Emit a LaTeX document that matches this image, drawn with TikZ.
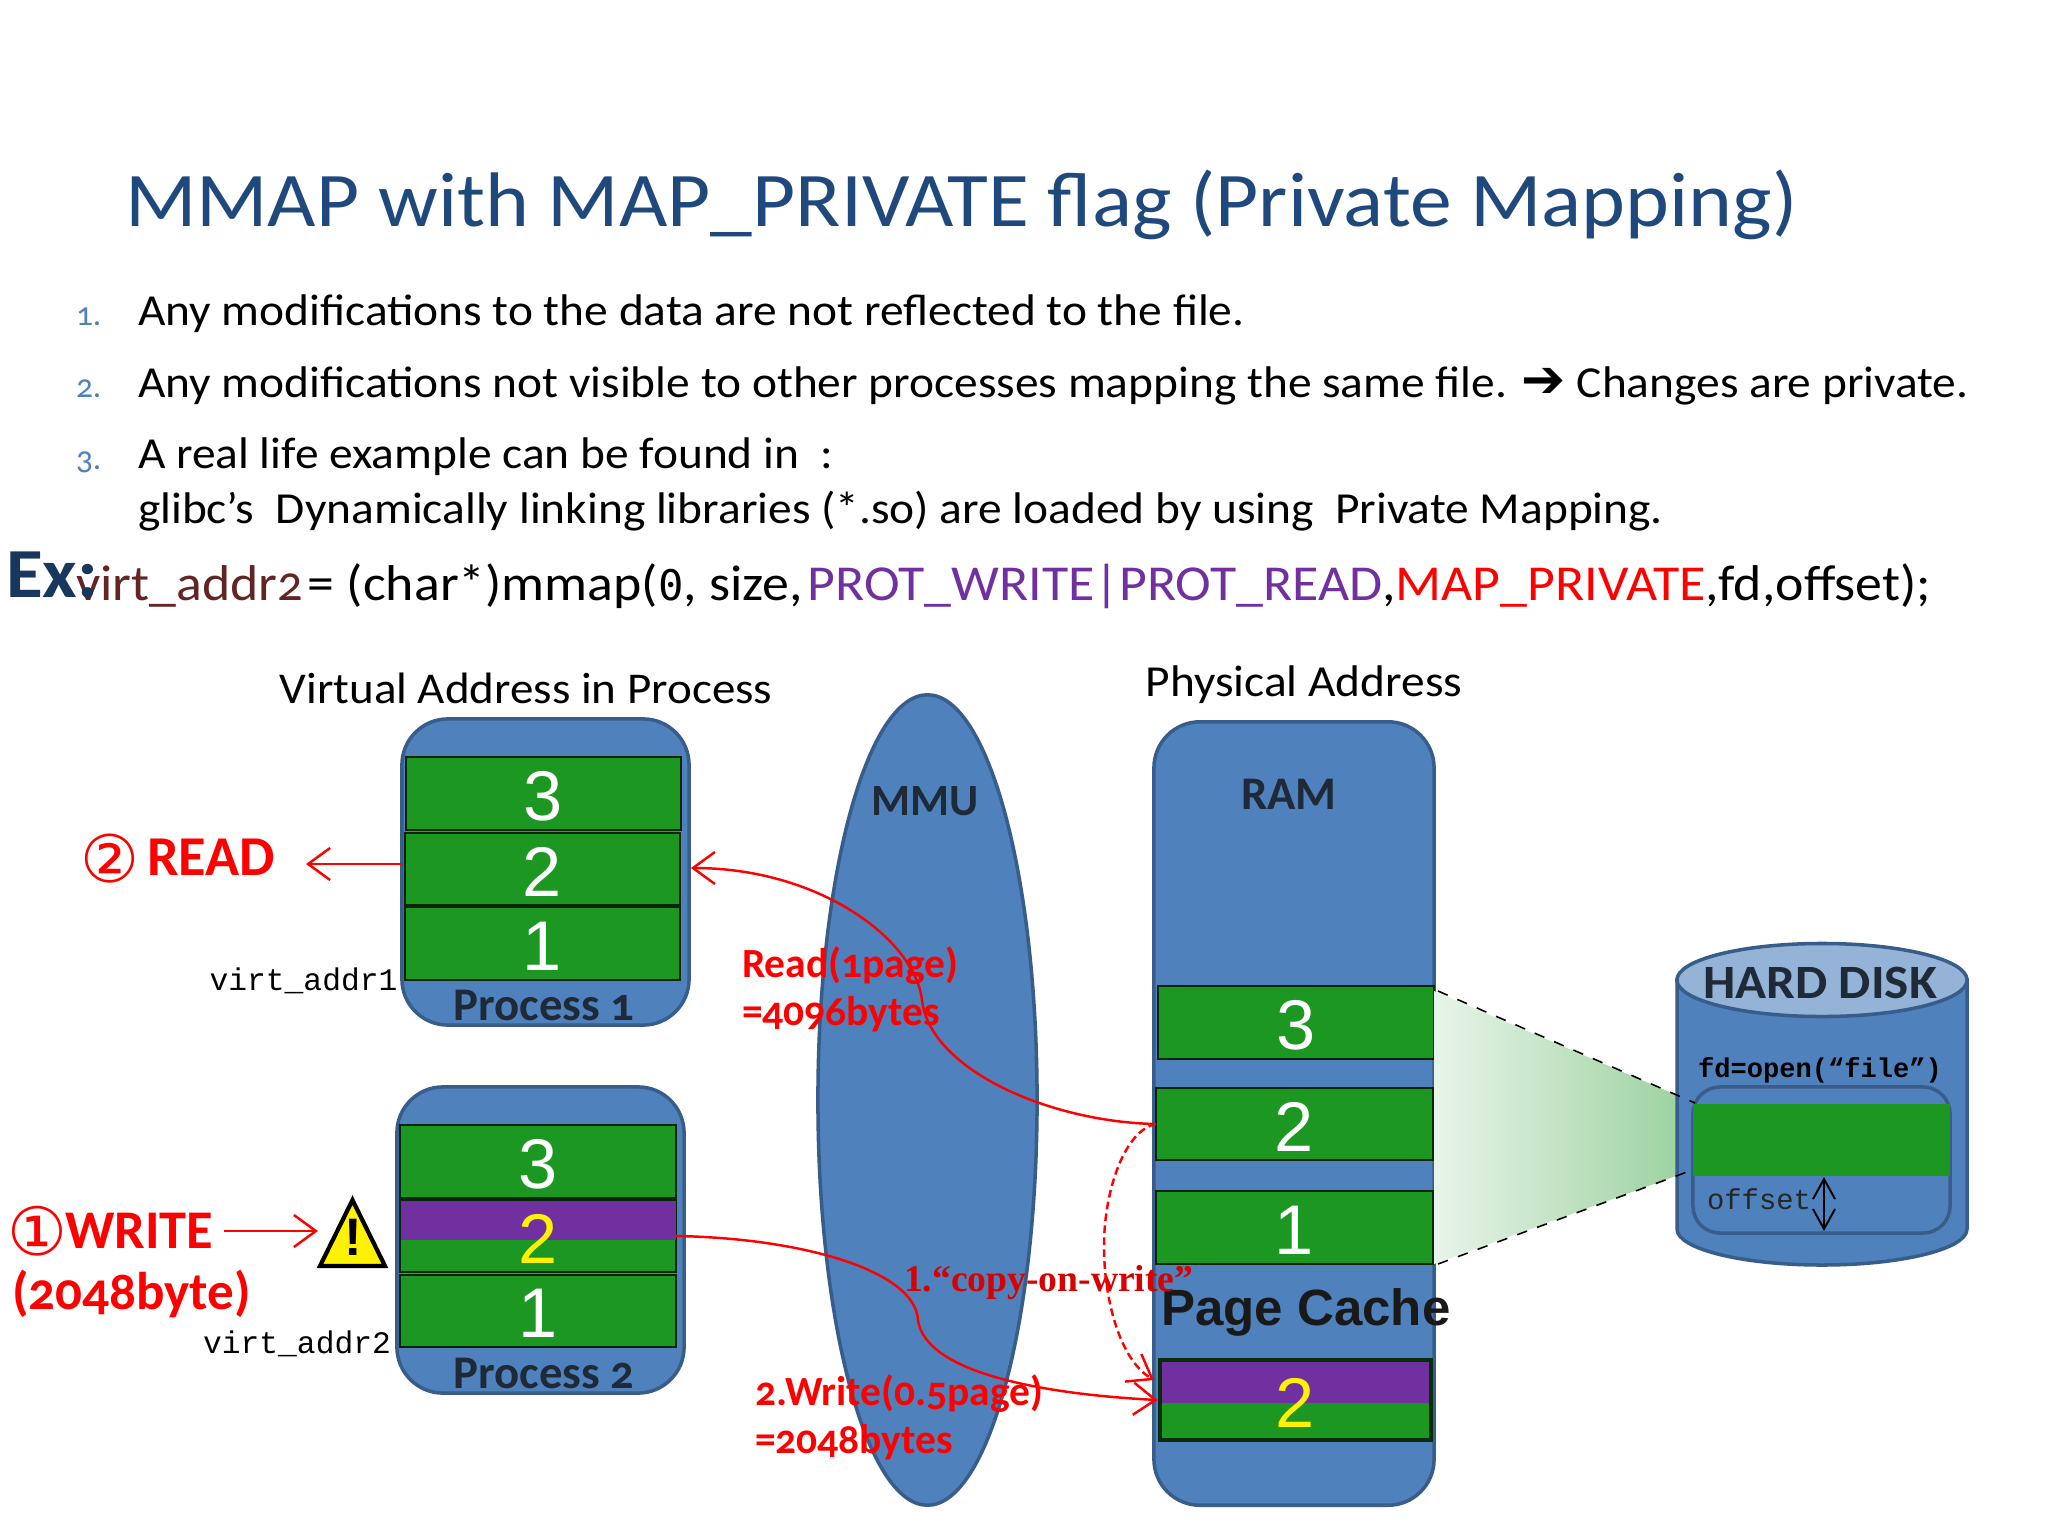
\documentclass[tikz,border=0pt]{standalone}
\usepackage{fontspec}
\setmainfont[FakeStretch=1.07]{Carlito}
\newfontfamily\candt[FakeStretch=1.08]{Carlito}
\newfontfamily\cand[Numbers=OldStyle]{Carlito}
\newfontfamily\arial{Liberation Sans}
\newfontfamily\lmono{Liberation Mono}
\newfontfamily\djmono{DejaVu Sans Mono}
\newfontfamily\djsans{DejaVu Sans}
\newfontfamily\tserif[Numbers=OldStyle]{Liberation Serif}
\usetikzlibrary{arrows.meta,shapes.geometric}
\definecolor{fillblue}{HTML}{4F81BD}
\definecolor{edgeblue}{HTML}{385D8A}
\definecolor{diskTop}{HTML}{95B3D7}
\definecolor{bargreen}{HTML}{1B9722}
\definecolor{barpurple}{HTML}{7030A0}
\definecolor{titleblue}{HTML}{1F497D}
\definecolor{exblue}{HTML}{17375E}
\definecolor{brownred}{HTML}{632523}
\definecolor{numblue}{HTML}{4F81BD}
\definecolor{labeldark}{HTML}{1F2A38}
\newcommand{\fsz}[1]{\fontsize{#1pt}{#1pt}\selectfont}
\tikzset{
  txt/.style={inner sep=0pt,outer sep=0pt},
  line/.style={txt,anchor=base west,text=black},
  blob/.style={rounded corners=4.6mm,draw=edgeblue,fill=fillblue,line width=1.0pt},
  barbox/.style={draw=black!75!bargreen,fill=bargreen,line width=0.5pt,inner sep=0pt,outer sep=0pt},
  digit/.style={txt,text=white,font=\arial\fsz{20},yshift=-0.25mm},
  dlabel/.style={txt,text=labeldark,font=\cand\bfseries\fsz{13.3}},
  redlabel/.style={txt,anchor=base west,text=red,font=\cand\bfseries\fsz{11.8}},
  monolabel/.style={txt,text=black,font=\lmono\fsz{8.9}},
  redline/.style={draw=red,line width=0.7pt},
  redarrow/.style={redline,-{Straight Barb[length=2.2mm,width=3.2mm]}},
}
\begin{document}
\begin{tikzpicture}[x=0.01cm,y=-0.01cm]
\useasboundingbox (0,0) rectangle (2048,1536);
\fill[white] (0,0) rectangle (2048,1536);

% heading text
\node[line,text=titleblue,font=\candt\fsz{22}] (title) at (125,226) {MMAP with MAP\_PRIVATE flag (Private Mapping)};
\node[line,text=numblue,font=\cand\fsz{9.5}] (n1) at (76,325) {1.};
\node[line,font=\fsz{12.6}] (l1) at (138,325.5) {Any modifications to the data are not reflected to the file.};
\node[line,text=numblue,font=\cand\fsz{9.5}] (n2) at (76,397) {2.};
\node[line,font=\fsz{12.6}] (l2) at (138,397.5) {Any modifications not visible to other processes mapping the same file. {\djsans\fsz{15}➔} Changes are private.};
\node[line,text=numblue,font=\cand\fsz{9.5}] (n3) at (76,469) {3.};
\node[line,font=\fsz{12.6}] (l3) at (138,468.5) {A real life example can be found in~ :};
\node[line,font=\fsz{12.6}] (l4) at (138,523.5) {glibc’s~ Dynamically linking libraries (*.so) are loaded by using~ Private Mapping.};
\node[line,font=\fsz{14.3}] (code) at (76,600) {\textcolor{brownred}{virt\_addr\cand2}\hspace{-0.07cm} = (char*)mmap({\djmono\fsz{12}0}, size,\hspace{0.05cm}\textcolor{barpurple}{PROT\_WRITE|PROT\_READ},\textcolor{red}{MAP\_PRIVATE},fd,offset);};
\node[line,text=exblue,font=\bfseries\fsz{20}] (ex) at (6,597) {Ex:};

% section captions
\node[txt,font=\fsz{12.5}] (virtcap) at (526,688) {Virtual Address in Process};
\node[txt,font=\fsz{12.6}] (physcap) at (1304,685) {Physical Address};

% MMU
\node[ellipse,draw=edgeblue,fill=fillblue,line width=1.0pt,minimum width=2.19cm,minimum height=8.10cm,inner sep=0pt] (mmu) at (927.5,1100) {};
\node[dlabel,font=\cand\bfseries\fsz{12.7}] (mmulabel) at (925,801) {MMU};

% process 1
\node[blob,minimum width=2.87cm,minimum height=3.06cm,inner sep=0pt] (p1) at (545.5,872) {};
\node[barbox,minimum width=2.75cm,minimum height=0.73cm] (p1c) at (543.5,793.5) {};
\node[barbox,minimum width=2.75cm,minimum height=0.72cm] (p1b) at (542.5,869) {};
\node[barbox,minimum width=2.75cm,minimum height=0.73cm] (p1a) at (542.5,943.5) {};
\node[digit] at (p1c) {3};
\node[digit] at (p1b) {2};
\node[digit] at (p1a) {1};
\node[dlabel] (p1label) at (544,1005) {Process 1};

% process 2
\node[blob,minimum width=2.87cm,minimum height=3.06cm,inner sep=0pt] (p2) at (540.5,1240) {};
\node[barbox,minimum width=2.76cm,minimum height=0.73cm] (p2c) at (538,1161.5) {};
\node[barbox,minimum width=2.76cm,minimum height=0.72cm] (p2b) at (538,1236) {};
\fill[barpurple] (400.5,1200.5) rectangle (675.5,1240);
\node[digit,text=yellow] at (p2b) {2};
\node[barbox,minimum width=2.76cm,minimum height=0.72cm] (p2a) at (538,1311) {};
\node[digit] at (p2c) {3};
\node[digit] at (p2a) {1};
\node[dlabel] (p2label) at (544,1373) {Process 2};

% RAM
\node[blob,minimum width=2.80cm,minimum height=7.83cm,inner sep=0pt] (ram) at (1294,1113.5) {};
\node[dlabel] (ramlabel) at (1289,794) {RAM};
\node[barbox,minimum width=2.76cm,minimum height=0.73cm] (rc) at (1296,1022.5) {};
\node[barbox,minimum width=2.77cm,minimum height=0.72cm] (rb) at (1294.5,1124) {};
\node[barbox,minimum width=2.77cm,minimum height=0.73cm] (ra) at (1294.5,1227.5) {};
\node[digit] at (rc) {3};
\node[digit] at (rb) {2};
\node[digit] at (ra) {1};
\node[txt,font=\arial\bfseries\fsz{14.5},text=black!90] (pclabel) at (1306,1312) {Page Cache};
\node[draw=black!70!bargreen,fill=bargreen,line width=1.3pt,minimum width=2.71cm,minimum height=0.80cm,inner sep=0pt] (pc) at (1295.5,1400) {};
\fill[barpurple] (1162,1362) rectangle (1429,1403);
\node[digit,text=yellow] at (pc) {2};

% gradient beam
\shade[left color=bargreen!10!white,right color=bargreen!45!white] (1434,991) -- (1695,1103) -- (1695,1169) -- (1434,1264) -- cycle;

% hard disk
\fill[fillblue,draw=edgeblue,line width=1.0pt] (1677,980) -- (1677,1229) arc[start angle=180,end angle=0,x radius=145,y radius=36] -- (1967,980) -- cycle;
\node[ellipse,draw=edgeblue,fill=diskTop,line width=1.0pt,minimum width=2.90cm,minimum height=0.73cm,inner sep=0pt] (disktop) at (1822,980) {};
\node[txt,text=labeldark,font=\bfseries\fsz{13.6}] (disklabel) at (1820,983) {HARD DISK};
\node[txt,text=black,font=\lmono\bfseries\fsz{7.7}] (fdlabel) at (1820,1070) {fd=open(“file”)};
\node[rounded corners=2.7mm,draw=edgeblue,fill=fillblue,line width=1.0pt,minimum width=2.57cm,minimum height=1.46cm,inner sep=0pt] (file) at (1821.5,1160) {};
\node[draw=none,fill=bargreen,minimum width=2.57cm,minimum height=0.72cm,inner sep=0pt] (filebar) at (1821.5,1140) {};
\node[monolabel,text=black!85,font=\lmono\fsz{8.2}] (offlabel) at (1759,1199) {offset};
\coordinate (offtop) at (1824,1177);
\coordinate (offbot) at (1824,1231);
\draw[{Straight Barb[length=2mm,width=2.2mm]}-{Straight Barb[length=2mm,width=2.2mm]},line width=0.55pt] (offtop) -- (offbot);

% dashed projection lines
\coordinate (beamAtop) at (1438,991);
\coordinate (beamBtop) at (1695,1103);
\coordinate (beamAbot) at (1438,1264);
\coordinate (beamBbot) at (1695,1169);
\draw[dashed,line width=0.45pt] (beamAtop) -- (beamBtop);
\draw[dashed,line width=0.45pt] (beamAbot) -- (beamBbot);

% red labels
\node[txt,anchor=center,text=red] (circ2) at (110,859) {\djsans\fsz{18.7}②};
\node[redlabel,font=\cand\bfseries\fsz{16}] (readlabel) at (147,875) {READ};
\coordinate (readsrc) at (402,864);
\coordinate (readtip) at (306,864);
\draw[redarrow] (readsrc) -- (readtip);
\node[txt,anchor=center,text=red] (circ1) at (37,1231) {\djsans\fsz{19}①};
\node[redlabel,font=\cand\bfseries\fsz{15.5}] (writelabel) at (65,1248) {WRITE};
\node[redlabel,font=\cand\bfseries\fsz{15.1}] (wbytes) at (12,1309) {(2048byte)};
\coordinate (writesrc) at (224,1231);
\coordinate (writetip) at (318,1231);
\draw[redarrow] (writesrc) -- (writetip);
\coordinate (warnapex) at (352.5,1200);
\coordinate (warnleft) at (320,1266);
\coordinate (warnright) at (385,1266);
\draw[fill=yellow,draw=black,line width=1.2pt,line join=miter] (warnapex) -- (warnright) -- (warnleft) -- cycle;
\node[txt,font=\arial\bfseries\fsz{15}] (warnmark) at (353,1237) {!};
\node[monolabel] (va1) at (303.5,981) {virt\_addr1};
\node[monolabel] (va2) at (297,1344) {virt\_addr2};

\node[redlabel] (rd1) at (742,977) {Read(1page)};
\node[redlabel] (rd2) at (742,1025) {=4096bytes};
\node[redlabel] (wr1) at (755,1405) {2.Write(0.5page)};
\node[redlabel] (wr2) at (755,1453) {=2048bytes};
\node[redlabel,font=\tserif\bfseries\fsz{10.7},text=red!85!black] (cow) at (904,1291) {1.“copy-on-write”};

% red connectors
\draw[redarrow] (rb.west) .. controls (1050,1122) and (930,1070) .. (922,1000) .. controls (915,940) and (820,868) .. ([yshift=0.4mm]p1.east);
\draw[redarrow] (p2b.east) .. controls (800,1238) and (915,1270) .. (918,1320) .. controls (925,1372) and (1040,1394) .. (pc.west);
\coordinate (cowtip) at (1154,1380);
\draw[redarrow,dash pattern=on 2.2pt off 1.2pt] (rb.west) .. controls (1125,1130) and (1104,1190) .. (1104,1246) .. controls (1104,1300) and (1120,1360) .. (cowtip);
\end{tikzpicture}
\end{document}
